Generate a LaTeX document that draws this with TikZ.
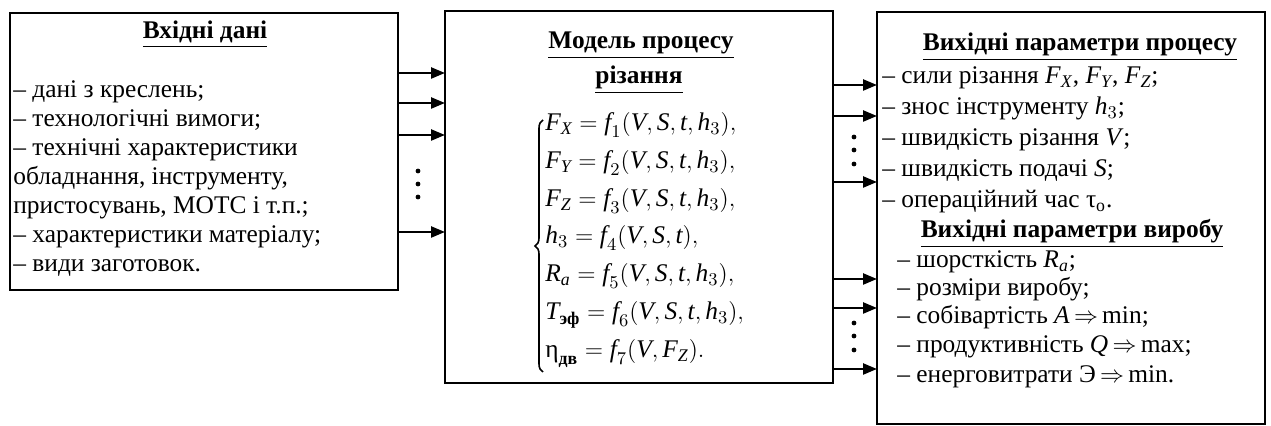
\documentclass[tikz,border=0pt]{standalone}
\usepackage{amsmath}
\usepackage{fontspec}
\setmainfont{Liberation Serif}
\usetikzlibrary{arrows.meta,decorations.pathreplacing}
\newcommand{\mv}[1]{\textit{#1}}
\begin{document}
\begin{tikzpicture}[x=0.5pt,y=-0.5pt,
  box/.style={draw, line width=1.2pt, minimum width=194pt, anchor=north west, inner sep=0pt, outer sep=0pt},
  arr/.style={line width=1.2pt, -{Triangle[length=7pt,width=5.5pt]}},
  ttl/.style={font=\fontsize{12.7}{14.5}\selectfont\bfseries, inner sep=0pt, anchor=base},
  ln/.style={font=\fontsize{12.7}{14.5}\selectfont, inner sep=0pt, anchor=base west},
  eqn/.style={font=\fontsize{12.7}{14.5}\selectfont, inner sep=0pt, anchor=base west},
  curly/.style={line width=0.8pt, decorate, decoration={brace, amplitude=4pt}},
  dotm/.style={circle, fill, inner sep=0pt, minimum size=2.4pt}]
\useasboundingbox (0,0) rectangle (1271,426);
% boxes
\node[box, minimum height=138.5pt] (L) at (10,13) {};
\node[box, minimum height=186pt] (M) at (445,11) {};
\node[box, minimum height=206pt] (R) at (877,12) {};
% left box texts
\node[ttl] (lt) at (205,39) {\underline{Вхідні дані}};
\node[ln] (l1) at (13,98) {– дані з креслень;};
\node[ln] (l2) at (13,127) {– технологічні вимоги;};
\node[ln] (l3) at (13,156) {– технічні характеристики};
\node[ln] (l4) at (13,185) {обладнання, інструменту,};
\node[ln] (l5) at (13,214) {пристосувань, МОТС і т.п.;};
\node[ln] (l6) at (13,243) {– характеристики матеріалу;};
\node[ln] (l7) at (13,272) {– види заготовок.};
% middle box texts
\node[ttl] (mt1) at (641,49) {\underline{Модель процесу}};
\node[ttl] (mt2) at (639,84) {\underline{різання}};
\coordinate (bb) at (543,372);
\coordinate (bt) at (543,120);
\draw[curly] (bb) -- (bt);
\node[eqn] (e1) at (545,131) {$\mv{F}_{\mv{X}} = \mv{f}_{1}(\mv{V}, \mv{S}, \mv{t}, \mv{h}_{3}),$};
\node[eqn] (e2) at (545,169) {$\mv{F}_{\mv{Y}} = \mv{f}_{2}(\mv{V}, \mv{S}, \mv{t}, \mv{h}_{3}),$};
\node[eqn] (e3) at (545,207) {$\mv{F}_{\mv{Z}} = \mv{f}_{3}(\mv{V}, \mv{S}, \mv{t}, \mv{h}_{3}),$};
\node[eqn] (e4) at (545,244) {$\mv{h}_{3} = \mv{f}_{4}(\mv{V}, \mv{S}, \mv{t}),$};
\node[eqn] (e5) at (545,282) {$\mv{R}_{\mv{a}} = \mv{f}_{5}(\mv{V}, \mv{S}, \mv{t}, \mv{h}_{3}),$};
\node[eqn] (e6) at (545,320) {$\mv{T}_{\text{\bfseries эф}} = \mv{f}_{6}(\mv{V}, \mv{S}, \mv{t}, \mv{h}_{3}),$};
\node[eqn] (e7) at (545,358) {$\text{η}_{\text{\bfseries дв}} = \mv{f}_{7}(\mv{V}, \mv{F}_{\mv{Z}}).$};
% right box texts
\node[ttl] (rt1) at (1080,51) {\underline{Вихідні параметри процесу}};
\node[ln] (r1) at (882,84) {– сили різання \mv{F}$_{\mv{X}}$, \mv{F}$_{\mv{Y}}$, \mv{F}$_{\mv{Z}}$;};
\node[ln] (r2) at (882,115) {– знос інструменту \mv{h}$_{3}$;};
\node[ln] (r3) at (882,146) {– швидкість різання \mv{V};};
\node[ln] (r4) at (882,177) {– швидкість подачі \mv{S};};
\node[ln] (r5) at (882,208) {– операційний час τ$_{\text{o}}$.};
\node[ttl] (rt2) at (1072,238) {\underline{Вихідні параметри виробу}};
\node[ln] (r6) at (897,268) {– шорсткість \mv{R}$_{\mv{a}}$;};
\node[ln] (r7) at (897,296) {– розміри виробу;};
\node[ln] (r8) at (897,324) {– собівартість \mv{A}\,$\Rightarrow$\,min;};
\node[ln] (r9) at (897,353) {– продуктивність \mv{Q}\,$\Rightarrow$\,max;};
\node[ln] (r10) at (897,383) {– енерговитрати Э\,$\Rightarrow$\,min.};
% arrows left -> middle
\foreach \yy in {73,103,135,232} \draw[arr] (L.east |- 0,\yy) -- (M.west |- 0,\yy);
% arrows middle -> right
\foreach \yy in {85,116,182,279,308,369} \draw[arr] (M.east |- 0,\yy) -- (R.west |- 0,\yy);
% vertical dots
\foreach \yy [count=\i] in {171,184,197} \node[dotm] (dl\i) at (418,\yy) {};
\foreach \yy [count=\i] in {137,150,164} \node[dotm] (dr\i) at (854,\yy) {};
\foreach \yy [count=\i] in {323,336,350} \node[dotm] (ds\i) at (854,\yy) {};
\end{tikzpicture}
\end{document}
